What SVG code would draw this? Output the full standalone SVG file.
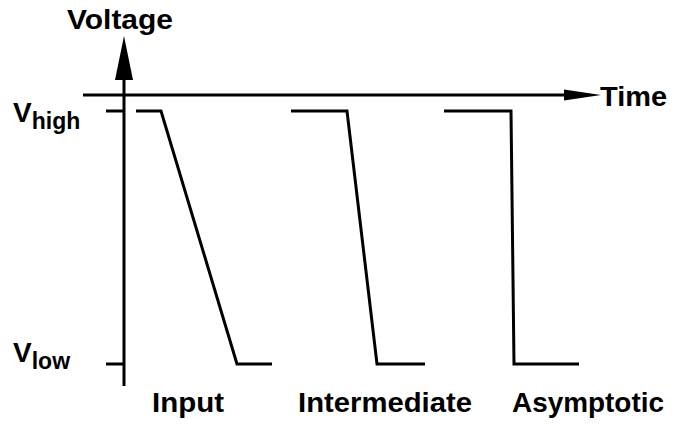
<svg xmlns="http://www.w3.org/2000/svg" width="677" height="424" viewBox="0 0 677 424">
<style>
.ln{fill:none;stroke:#000;stroke-width:3;stroke-linejoin:miter}
.t{font-family:"Liberation Sans",Arial,Helvetica,sans-serif;font-weight:bold;fill:#000}
.lbl{font-size:28px}
</style>
<rect width="677" height="424" fill="#fff"/>
<g id="axes">
<line class="ln" x1="124" y1="386" x2="124" y2="70"/>
<polygon points="124,36 115,80 133,80" fill="#000"/>
<line class="ln" x1="83" y1="95" x2="570" y2="95"/>
<polygon points="601,95 564,89.5 564,100.5" fill="#000"/>
<line class="ln" x1="106" y1="111" x2="124" y2="111"/>
<line class="ln" x1="106" y1="364" x2="124" y2="364"/>
</g>
<g id="input">
<polyline class="ln" points="136,111 161,111 237,364 272,364"/>
</g>
<g id="intermediate">
<polyline class="ln" points="291,111 347,111 377,364 425,364"/>
</g>
<g id="asymptotic">
<polyline class="ln" points="444,111 511,111 514,364 579,364"/>
</g>
<g id="labels">
<text class="t" x="67" y="29" font-size="28" textLength="106" lengthAdjust="spacingAndGlyphs">Voltage</text>
<text class="t" x="600" y="106" font-size="28" textLength="67" lengthAdjust="spacingAndGlyphs">Time</text>
<text class="t" x="13" y="122" font-size="28">V<tspan font-size="23" dy="7">high</tspan></text>
<text class="t" x="13" y="362" font-size="28">V<tspan font-size="23" dy="7">low</tspan></text>
<text class="t lbl" x="152" y="412" textLength="72" lengthAdjust="spacingAndGlyphs">Input</text>
<text class="t lbl" x="298" y="412" textLength="174" lengthAdjust="spacingAndGlyphs">Intermediate</text>
<text class="t lbl" x="512" y="412" textLength="152" lengthAdjust="spacingAndGlyphs">Asymptotic</text>
</g>
</svg>
